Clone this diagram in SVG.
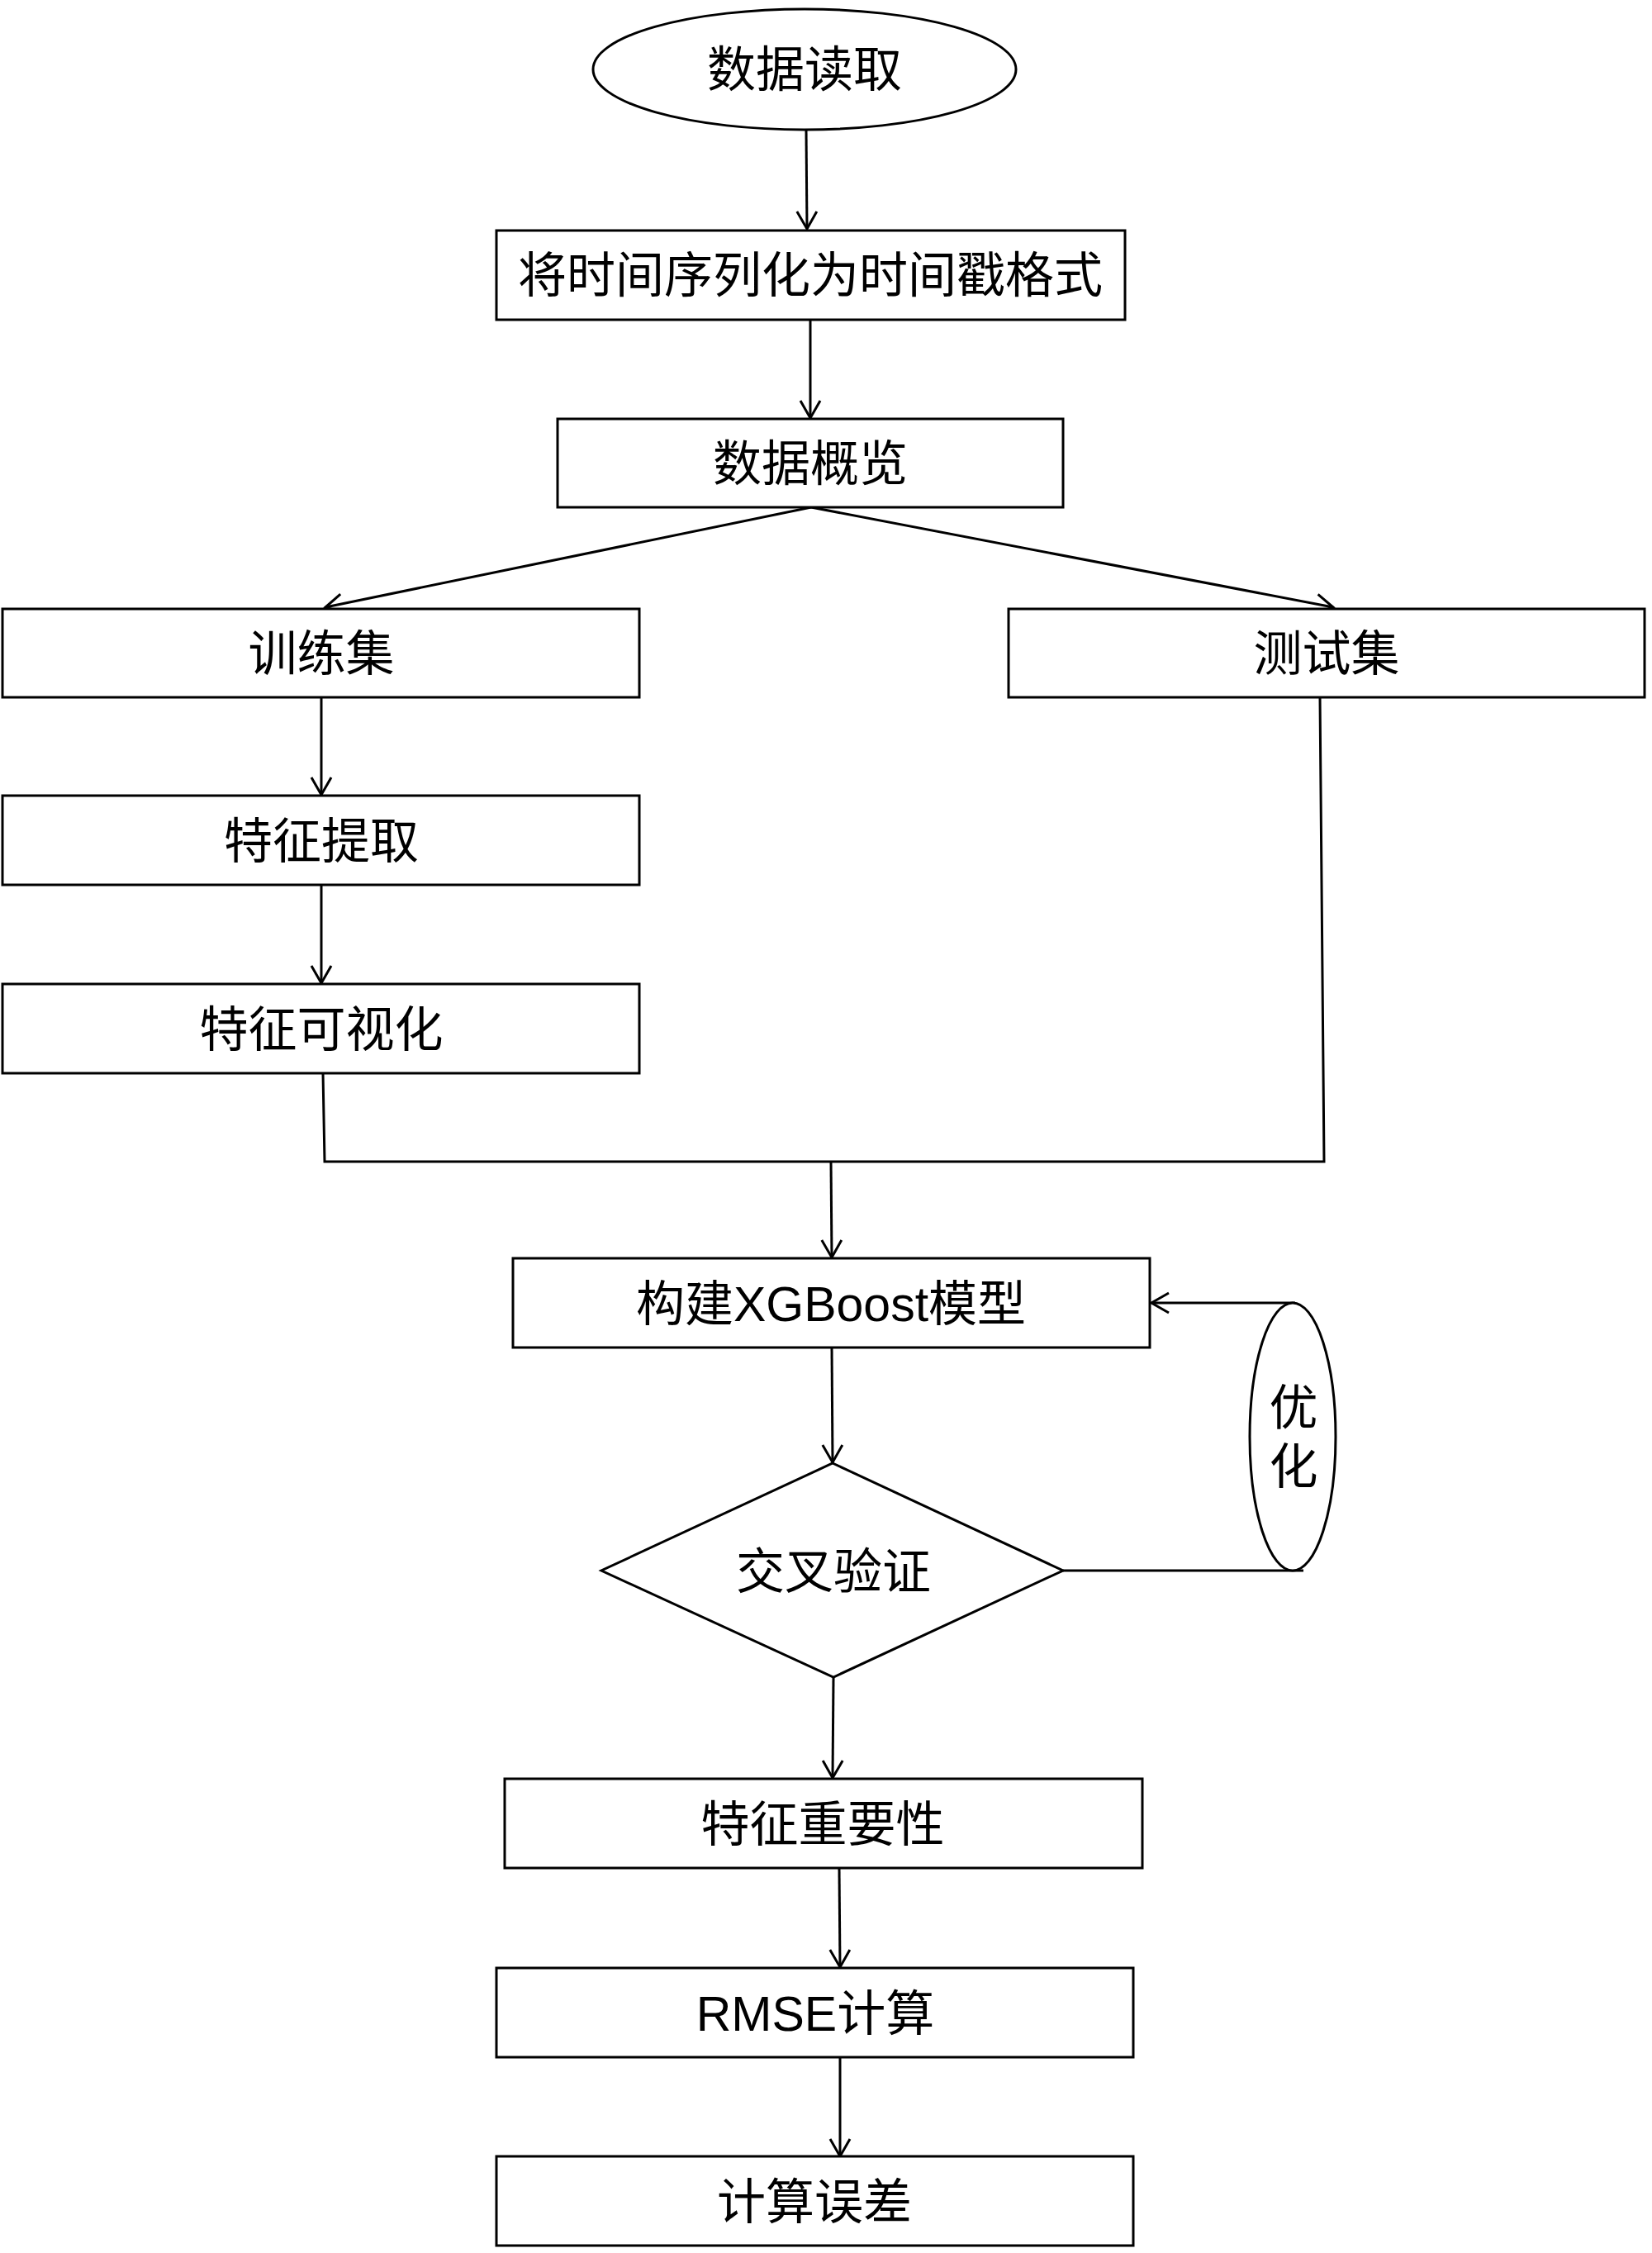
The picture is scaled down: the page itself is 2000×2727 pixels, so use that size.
<svg xmlns="http://www.w3.org/2000/svg" width="2000" height="2727" viewBox="0 0 2000 2727">
<defs>
<style>
.n{fill:#fff;stroke:#000;stroke-width:3}
.t{font-family:"Liberation Sans","Noto Sans CJK SC",sans-serif;font-size:59px;fill:#000;text-anchor:middle}
.c{fill:none;stroke:#000;stroke-width:3}
</style>
<marker id="ah" markerUnits="userSpaceOnUse" markerWidth="40" markerHeight="40" viewBox="-30 -20 40 40" refX="0" refY="0" orient="auto">
<path d="M-21,-12 L0,0 L-21,12" fill="none" stroke="#000" stroke-width="3"/>
</marker>
</defs>
<rect width="2000" height="2727" fill="#fff"/>
<g id="connectors">
<line class="c" x1="976" y1="157" x2="977" y2="277" marker-end="url(#ah)"/>
<line class="c" x1="981" y1="387" x2="981" y2="506" marker-end="url(#ah)"/>
<line class="c" x1="982" y1="614" x2="394" y2="735" marker-end="url(#ah)"/>
<line class="c" x1="982" y1="614" x2="1614" y2="735" marker-end="url(#ah)"/>
<line class="c" x1="389" y1="844" x2="389" y2="962" marker-end="url(#ah)"/>
<line class="c" x1="389" y1="1071" x2="389" y2="1190" marker-end="url(#ah)"/>
<polyline class="c" points="391,1299 393,1406 1603,1406 1598,843"/>
<line class="c" x1="1006" y1="1406" x2="1007" y2="1522" marker-end="url(#ah)"/>
<line class="c" x1="1007" y1="1631" x2="1008" y2="1770" marker-end="url(#ah)"/>
<line class="c" x1="1287" y1="1901" x2="1578" y2="1901"/>
<line class="c" x1="1568" y1="1577" x2="1394" y2="1577" marker-end="url(#ah)"/>
<line class="c" x1="1009" y1="2031" x2="1008" y2="2152" marker-end="url(#ah)"/>
<line class="c" x1="1016" y1="2261" x2="1017" y2="2381" marker-end="url(#ah)"/>
<line class="c" x1="1017" y1="2490" x2="1017" y2="2610" marker-end="url(#ah)"/>
</g>
<g id="n1"><ellipse class="n" cx="974" cy="84" rx="256" ry="73"/><text class="t" x="974" y="105">数据读取</text></g>
<g id="n2"><rect class="n" x="601" y="279" width="761" height="108"/><text class="t" x="981" y="354">将时间序列化为时间戳格式</text></g>
<g id="n3"><rect class="n" x="675" y="507" width="612" height="107"/><text class="t" x="981" y="582">数据概览</text></g>
<g id="n4"><rect class="n" x="3" y="737" width="771" height="107"/><text class="t" x="389" y="812">训练集</text></g>
<g id="n5"><rect class="n" x="1221" y="737" width="770" height="107"/><text class="t" x="1606" y="812">测试集</text></g>
<g id="n6"><rect class="n" x="3" y="963" width="771" height="108"/><text class="t" x="389" y="1039">特征提取</text></g>
<g id="n7"><rect class="n" x="3" y="1191" width="771" height="108"/><text class="t" x="389" y="1267">特征可视化</text></g>
<g id="n8"><rect class="n" x="621" y="1523" width="771" height="108"/><text class="t" x="1006" y="1599">构建XGBoost模型</text></g>
<g id="n9"><polygon class="n" points="1008,1771 1287,1901 1009,2030 728,1901"/><text class="t" x="1009" y="1923">交叉验证</text></g>
<g id="n10"><ellipse class="n" cx="1565" cy="1739" rx="52" ry="162"/><text class="t" x="1566" y="1725">优</text><text class="t" x="1566" y="1796">化</text></g>
<g id="n11"><rect class="n" x="611" y="2153" width="772" height="108"/><text class="t" x="996" y="2229">特征重要性</text></g>
<g id="n12"><rect class="n" x="601" y="2382" width="771" height="108"/><text class="t" x="987" y="2458">RMSE计算</text></g>
<g id="n13"><rect class="n" x="601" y="2610" width="771" height="108"/><text class="t" x="986" y="2686">计算误差</text></g>
</svg>
